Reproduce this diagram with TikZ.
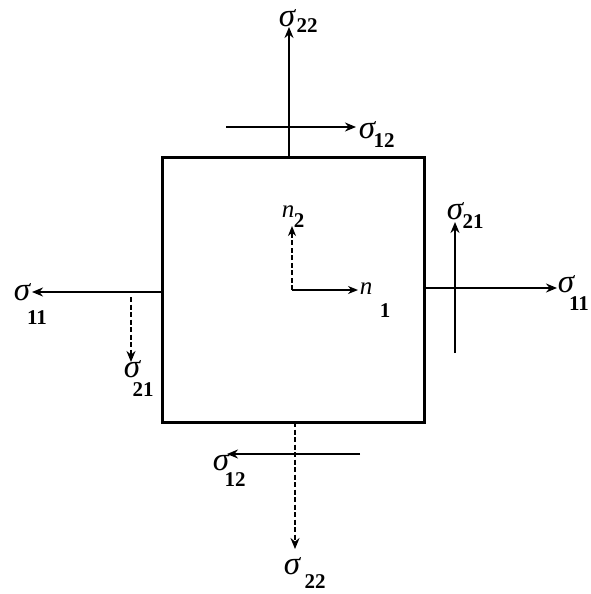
\documentclass[tikz,border=0pt]{standalone}
\usepackage{fontspec}
\setmainfont{Liberation Serif}
\usetikzlibrary{arrows.meta}
\begin{document}
\begin{tikzpicture}[x=1pt,y=-1pt,
  force/.style={line width=2pt,-{Stealth[length=11pt,width=9pt]}},
  dsh/.style={force,dash pattern=on 5pt off 2.5pt},
  sig/.style={inner sep=0pt,font=\fontsize{33}{36}\selectfont\itshape},
  nn/.style={inner sep=0pt,font=\fontsize{25}{28}\selectfont\itshape},
  sub/.style={inner sep=0pt,font=\fontsize{21}{24}\selectfont\bfseries}]
\useasboundingbox (0,0) rectangle (591,594);
\node[draw,line width=3pt,minimum width=262pt,minimum height=265pt,inner sep=0pt] (box) at (293,289.5) {};
% top
\coordinate (t1) at (289,157); \coordinate (t2) at (289,27);
\draw[force] (t1) -- (t2);
\node[sig] (s22a) at (287,18) {σ};
\node[sub] (d22a) at (307,26) {22};
\coordinate (u1) at (226,127); \coordinate (u2) at (356,127);
\draw[force] (u1) -- (u2);
\node[sig] (s12a) at (367,130) {σ};
\node[sub] (d12a) at (384,141) {12};
% left
\coordinate (l1) at (162,292); \coordinate (l2) at (32,292);
\draw[force] (l1) -- (l2);
\node[sig] (s11a) at (22,292) {σ};
\node[sub] (d11a) at (37,318) {11};
\coordinate (m1) at (131,297); \coordinate (m2) at (131,362);
\draw[dsh] (m1) -- (m2);
\node[sig] (s21a) at (132,369) {σ};
\node[sub] (d21a) at (143,390) {21};
% right
\coordinate (r1) at (424,288); \coordinate (r2) at (557,288);
\draw[force] (r1) -- (r2);
\node[sig] (s11b) at (566,284) {σ};
\node[sub] (d11b) at (579,304) {11};
\coordinate (q1) at (455,353); \coordinate (q2) at (455,222);
\draw[force] (q1) -- (q2);
\node[sig] (s21b) at (455,211) {σ};
\node[sub] (d21b) at (473,222) {21};
% bottom
\coordinate (b1) at (295,422); \coordinate (b2) at (295,549);
\draw[dsh] (b1) -- (b2);
\node[sig] (s22b) at (292,566) {σ};
\node[sub] (d22b) at (315,582) {22};
\coordinate (c1) at (360,454); \coordinate (c2) at (227,454);
\draw[force] (c1) -- (c2);
\node[sig] (s12b) at (221,462) {σ};
\node[sub] (d12b) at (235,480) {12};
% centre axes
\coordinate (o) at (292,290);
\coordinate (n2e) at (292,226); \coordinate (n1e) at (358,290);
\draw[dsh,line width=1.8pt,-{Stealth[length=10pt,width=8pt]}] (o) -- (n2e);
\draw[force,line width=1.8pt,-{Stealth[length=10pt,width=8pt]}] (o) -- (n1e);
\node[nn] (nb) at (288,212) {n};
\node[sub] (db) at (299,221) {2};
\node[nn] (na) at (366,289) {n};
\node[sub] (da) at (385,311) {1};
\end{tikzpicture}
\end{document}
